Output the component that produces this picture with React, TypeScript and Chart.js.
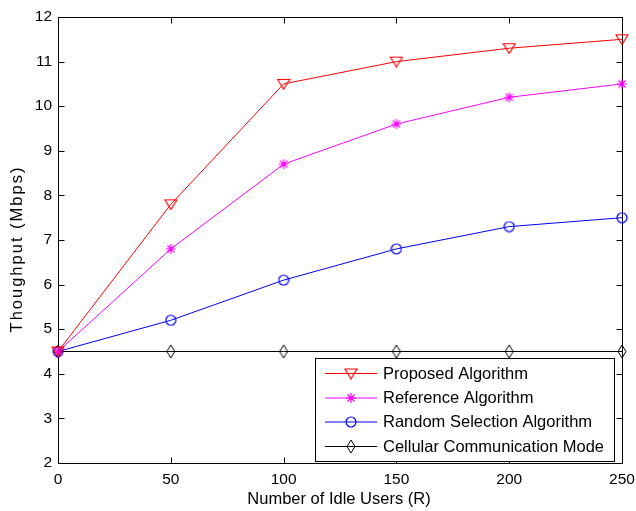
import React, { useEffect, useRef } from "react";
import { Chart, registerables } from "chart.js";

Chart.register(...registerables);

const users = [0, 50, 100, 150, 200, 250];
const proposed = [4.5, 7.8, 10.5, 11.0, 11.3, 11.5];
const reference = [4.5, 6.8, 8.7, 9.6, 10.2, 10.5];
const randomSel = [4.5, 5.2, 6.1, 6.8, 7.3, 7.5];
const cellular = [4.5, 4.5, 4.5, 4.5, 4.5, 4.5];
const seriesNames = [
  "Proposed Algorithm",
  "Reference Algorithm",
  "Random Selection Algorithm",
  "Cellular Communication Mode",
];
const xTicks = [0, 50, 100, 150, 200, 250];
const yTicks = [2, 3, 4, 5, 6, 7, 8, 9, 10, 11, 12];
const xTitle = "Number of Idle Users (R)";
const yTitle = "Thoughput (Mbps)";

const FONT = "'Liberation Sans', Arial, sans-serif";

function makeMarker(w: number, h: number, draw: (c: CanvasRenderingContext2D) => void) {
  const c = document.createElement("canvas");
  c.width = w;
  c.height = h;
  const ctx = c.getContext("2d")!;
  draw(ctx);
  return c;
}

export default function App() {
  const ref = useRef<HTMLCanvasElement | null>(null);

  useEffect(() => {
    document.body.style.margin = "0";
    document.body.style.overflow = "hidden";
    const triangle = makeMarker(14, 12, (c) => {
      c.strokeStyle = "#ff0000";
      c.lineWidth = 1.2;
      c.beginPath();
      c.moveTo(1, 1.5);
      c.lineTo(13, 1.5);
      c.lineTo(7, 11.2);
      c.closePath();
      c.stroke();
    });
    const star = makeMarker(12, 12, (c) => {
      c.strokeStyle = "#ff00ff";
      c.lineWidth = 1.2;
      c.beginPath();
      c.moveTo(1, 6); c.lineTo(11, 6);
      c.moveTo(6, 1); c.lineTo(6, 11);
      c.moveTo(2.5, 2.5); c.lineTo(9.5, 9.5);
      c.moveTo(9.5, 2.5); c.lineTo(2.5, 9.5);
      c.stroke();
    });
    const circle = makeMarker(12, 12, (c) => {
      c.strokeStyle = "#0000ff";
      c.lineWidth = 1.2;
      c.beginPath();
      c.arc(6, 6, 5, 0, Math.PI * 2);
      c.stroke();
    });
    const diamond = makeMarker(10, 15, (c) => {
      c.strokeStyle = "#000000";
      c.lineWidth = 1;
      c.beginPath();
      c.moveTo(5, 1);
      c.lineTo(9, 7.5);
      c.lineTo(5, 14);
      c.lineTo(1, 7.5);
      c.closePath();
      c.stroke();
    });
    const markers = [triangle, star, circle, diamond];
    const colors = ["#ff0000", "#ff00ff", "#0000ff", "#000000"];
    const values = [proposed, reference, randomSel, cellular];

    const framePlugin = {
      id: "frame",
      beforeDatasetsDraw(chart: any) {
        const { ctx, chartArea: a, scales } = chart;
        ctx.save();
        ctx.strokeStyle = "#000";
        ctx.lineWidth = 1;
        const L = Math.round(a.left) + 0.5, R = Math.round(a.right) + 0.5;
        const T = Math.round(a.top) + 0.5, B = Math.round(a.bottom) + 0.5;
        ctx.strokeRect(L, T, R - L, B - T);
        const tl = 6;
        ctx.beginPath();
        for (const v of xTicks) {
          const px = Math.round(scales.x.getPixelForValue(v)) + 0.5;
          ctx.moveTo(px, B); ctx.lineTo(px, B - tl);
          ctx.moveTo(px, T); ctx.lineTo(px, T + tl);
        }
        for (const v of yTicks) {
          const py = Math.round(scales.y.getPixelForValue(v)) + 0.5;
          ctx.moveTo(L, py); ctx.lineTo(L + tl, py);
          ctx.moveTo(R, py); ctx.lineTo(R - tl, py);
        }
        ctx.stroke();
        ctx.restore();
      },
      afterDatasetsDraw(chart: any) {
        const { ctx, chartArea: a } = chart;
        ctx.save();
        ctx.fillStyle = "#000";
        ctx.font = `16.5px ${FONT}`;
        ctx.textAlign = "center";
        ctx.textBaseline = "middle";
        ctx.fillText(xTitle, (a.left + a.right) / 2 - 1, 499);
        ctx.save();
        ctx.translate(17.5, 249);
        ctx.rotate(-Math.PI / 2);
        (ctx as any).letterSpacing = "2px";
        ctx.fillText(yTitle, 0, 0);
        ctx.restore();
        const bx = 315.5, by = 358.5, bw = 299, bh = 103;
        ctx.fillStyle = "#fff";
        ctx.fillRect(bx, by, bw, bh);
        ctx.strokeStyle = "#000";
        ctx.lineWidth = 1;
        ctx.strokeRect(bx, by, bw, bh);
        const rows = [373, 397.5, 421.5, 446];
        ctx.textAlign = "left";
        ctx.textBaseline = "middle";
        ctx.font = `16.5px ${FONT}`;
        seriesNames.forEach((name, i) => {
          const y = rows[i];
          ctx.strokeStyle = colors[i];
          ctx.beginPath();
          ctx.moveTo(325, y + 0.5);
          ctx.lineTo(377, y + 0.5);
          ctx.stroke();
          const m = markers[i];
          ctx.drawImage(m, 351 - m.width / 2, y - m.height / 2 + 0.5);
          ctx.fillStyle = "#000";
          ctx.fillText(name, 383, y + 1);
        });
        ctx.restore();
      },
    };

    const chart = new Chart(ref.current!, {
      type: "line",
      data: {
        datasets: seriesNames.map((name, i) => ({
          label: name,
          data: users.map((u, k) => ({ x: u, y: values[i][k] })),
          borderColor: colors[i],
          borderWidth: 1,
          pointStyle: markers[i] as any,
          pointRadius: 6,
          pointHoverRadius: 6,
          tension: 0,
          clip: false as any,
        })),
      },
      options: {
        animation: false,
        responsive: false,
        events: [],
        layout: { padding: { left: 0, top: 17, right: 14, bottom: 0 } },
        plugins: { legend: { display: false }, tooltip: { enabled: false } },
        scales: {
          x: {
            type: "linear",
            min: 0,
            max: 250,
            afterBuildTicks: (s: any) => { s.ticks = xTicks.map((v) => ({ value: v })); },
            afterFit: (s: any) => { s.height = 48; s.paddingLeft = 0; s.paddingRight = 0; },
            grid: { display: false, drawTicks: false },
            border: { display: false },
            ticks: { color: "#000", font: { family: FONT, size: 15.5 }, padding: 7, maxRotation: 0, autoSkip: false },
          },
          y: {
            type: "linear",
            min: 2,
            max: 12,
            afterBuildTicks: (s: any) => { s.ticks = yTicks.map((v) => ({ value: v })); },
            afterFit: (s: any) => { s.width = 58; s.paddingTop = 0; s.paddingBottom = 0; },
            grid: { display: false, drawTicks: false },
            border: { display: false },
            ticks: { color: "#000", font: { family: FONT, size: 15.5 }, padding: 6, autoSkip: false },
          },
        },
      },
      plugins: [framePlugin],
    });
    return () => chart.destroy();
  }, []);

  return <canvas ref={ref} width={636} height={511} style={{ display: "block" }} />;
}
